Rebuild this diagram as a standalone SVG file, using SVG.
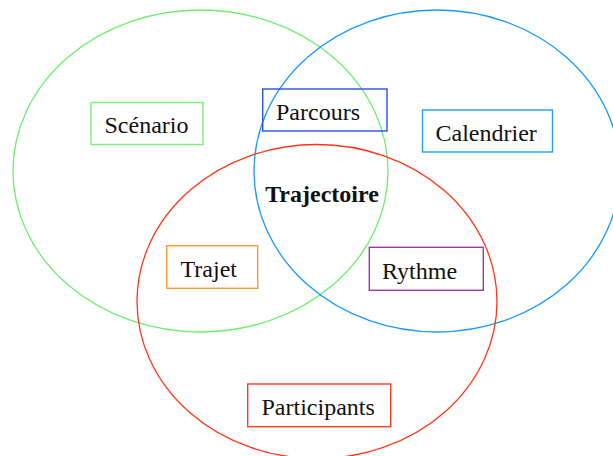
<svg xmlns="http://www.w3.org/2000/svg" width="613" height="456" viewBox="0 0 613 456">
<style>
.set{fill:none;stroke-width:1.3}
.box{fill:none;stroke-width:1.4}
.lbl{font-family:"Liberation Serif","Times New Roman",serif;font-size:24px;fill:#111}
.bold{font-weight:bold}
</style>
<rect width="613" height="456" fill="#fff"/>
<g id="sets">
<ellipse id="set-green" class="set" cx="200.5" cy="171" rx="187.5" ry="161" stroke="#6eee6e"/>
<ellipse id="set-blue" class="set" cx="437" cy="171" rx="183" ry="161" stroke="#1a98f8"/>
<ellipse id="set-red" class="set" cx="317" cy="301.5" rx="180" ry="157" stroke="#ff3418"/>
</g>
<g id="scenario">
<rect class="box" x="91" y="102.5" width="112" height="42" stroke="#76f276"/>
<text class="lbl" x="146.5" y="132.5" text-anchor="middle">Scénario</text>
</g>
<g id="parcours">
<rect class="box" x="262.7" y="89" width="124.3" height="42" stroke="#2b4ff0"/>
<text class="lbl" x="276" y="120">Parcours</text>
</g>
<g id="calendrier">
<rect class="box" x="422.5" y="110" width="130" height="42" stroke="#1ea0ff"/>
<text class="lbl" x="435.5" y="140.5">Calendrier</text>
</g>
<g id="trajectoire">
<text class="lbl bold" x="322" y="201.5" text-anchor="middle">Trajectoire</text>
</g>
<g id="trajet">
<rect class="box" x="166.7" y="245.7" width="91" height="42.6" stroke="#ff9a2e"/>
<text class="lbl" x="180.5" y="276.5">Trajet</text>
</g>
<g id="rythme">
<rect class="box" x="369.3" y="247.3" width="114" height="43" stroke="#9b3a9f"/>
<text class="lbl" x="382" y="279">Rythme</text>
</g>
<g id="participants">
<rect class="box" x="247.7" y="384" width="143" height="42.7" stroke="#ff3b1f"/>
<text class="lbl" x="261.5" y="415">Participants</text>
</g>
<g id="connectors"/>
</svg>
